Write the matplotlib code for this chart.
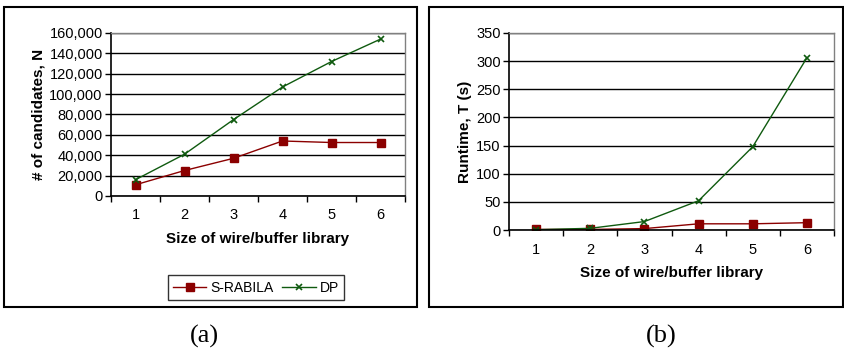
import matplotlib
matplotlib.use("Agg")
import matplotlib.pyplot as plt
from matplotlib.patches import Rectangle
from matplotlib.ticker import FuncFormatter, FixedLocator, NullFormatter

plt.rcParams['font.family'] = ['Liberation Sans', 'DejaVu Sans']

lib_size = [1, 2, 3, 4, 5, 6]
cand_srabila = [11000, 25000, 37000, 54000, 52500, 52500]
cand_dp = [16000, 41000, 75000, 107000, 132000, 154000]
time_srabila = [1, 1, 2.5, 11, 11, 13]
time_dp = [0.5, 3, 15, 52, 148, 306]

RED = "#8b0000"
GREEN = "#0f5a0f"
W, H = 844, 352


def fx(px):
    return px / W


def fy(py):
    return 1 - py / H


def style_axes(ax, ymax, ystep, fmt):
    ax.set_xlim(0.5, 6.5)
    ax.set_ylim(0, ymax)
    ax.set_yticks(range(0, ymax + 1, ystep))
    ax.yaxis.set_major_formatter(FuncFormatter(fmt))
    ax.xaxis.set_major_locator(FixedLocator([i + 0.5 for i in range(0, 7)]))
    ax.xaxis.set_major_formatter(NullFormatter())
    ax.xaxis.set_minor_locator(FixedLocator(lib_size))
    ax.xaxis.set_minor_formatter(FuncFormatter(lambda v, p: "%d" % v))
    ax.tick_params(axis="x", which="minor", length=0, pad=9, labelsize=10.5)
    ax.tick_params(axis="x", which="major", length=4, width=1, direction="out")
    ax.tick_params(axis="y", length=4, width=1, direction="out", labelsize=10.5, pad=2)
    ax.grid(axis="y", color="black", linewidth=1)
    ax.set_axisbelow(True)
    for s in ("top", "right"):
        ax.spines[s].set_color("#808080")
        ax.spines[s].set_linewidth(1)
    for s in ("left", "bottom"):
        ax.spines[s].set_color("black")
        ax.spines[s].set_linewidth(1.2)


fig = plt.figure(figsize=(W / 100, H / 100), dpi=100)

# panel frames
for x0, x1 in ((4, 417), (429, 843)):
    fig.patches.append(Rectangle((fx(x0), fy(307)), fx(x1) - fx(x0), fy(7) - fy(307),
                                 transform=fig.transFigure, fill=False,
                                 edgecolor="black", linewidth=1.5))

# (a)
ax1 = fig.add_axes([fx(111), fy(196), fx(405) - fx(111), fy(33) - fy(196)])
l1, = ax1.plot(lib_size, cand_srabila, color=RED, marker="s", markersize=5.5,
               linewidth=1, label="S-RABILA")
l2, = ax1.plot(lib_size, cand_dp, color=GREEN, marker="x", markersize=5,
               markeredgewidth=1.2, linewidth=1, label="DP")
style_axes(ax1, 160000, 20000, lambda v, p: "{:,.0f}".format(v))
ax1.set_ylabel("# of candidates, N", fontsize=11, fontweight="bold", labelpad=3)
ax1.set_xlabel("Size of wire/buffer library", fontsize=11, fontweight="bold", labelpad=7)
fig.legend(handles=[l1, l2], loc="center", bbox_to_anchor=(fx(256), fy(287.5)),
           ncol=2, fontsize=10, frameon=True, fancybox=False, edgecolor="black",
           handlelength=2.4, columnspacing=0.6, handletextpad=0.3,
           borderpad=0.4).get_frame().set_linewidth(1)

# (b)
ax2 = fig.add_axes([fx(509), fy(230), fx(834) - fx(509), fy(33) - fy(230)])
ax2.plot(lib_size, time_srabila, color=RED, marker="s", markersize=5.5, linewidth=1)
ax2.plot(lib_size, time_dp, color=GREEN, marker="x", markersize=5,
         markeredgewidth=1.2, linewidth=1)
style_axes(ax2, 350, 50, lambda v, p: "%d" % v)
ax2.set_ylabel("Runtime, T (s)", fontsize=11, fontweight="bold", labelpad=3)
ax2.set_xlabel("Size of wire/buffer library", fontsize=11, fontweight="bold", labelpad=7)

fig.text(fx(204), fy(336), "(a)", ha="center", va="center", fontsize=19,
         family="Liberation Serif")
fig.text(fx(661), fy(336), "(b)", ha="center", va="center", fontsize=19,
         family="Liberation Serif")

fig.savefig("out.png", dpi=100)
